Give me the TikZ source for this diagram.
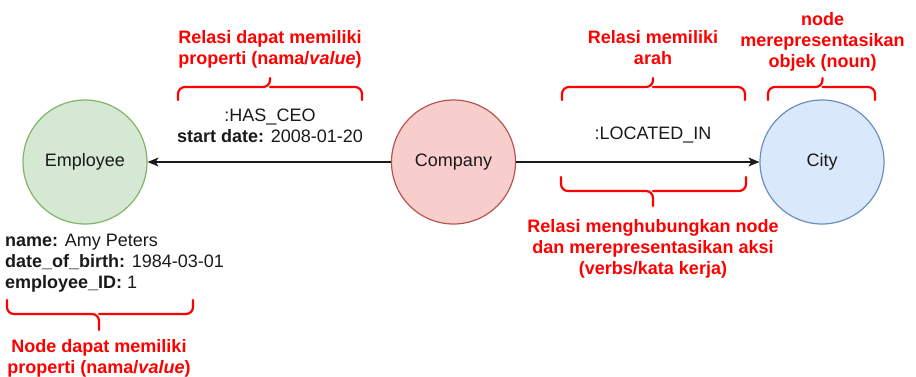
\documentclass[tikz,border=0pt]{standalone}
\usepackage{fontspec}
\setmainfont{Liberation Sans}
\usetikzlibrary{arrows.meta}
\definecolor{ink}{HTML}{1A1A1A}
\definecolor{note}{HTML}{FF0000}
\definecolor{greenfill}{HTML}{D5E8D4}\definecolor{greenline}{HTML}{82B366}
\definecolor{redfill}{HTML}{F8CECC}\definecolor{redline}{HTML}{B85450}
\definecolor{bluefill}{HTML}{DAE8FC}\definecolor{blueline}{HTML}{6C8EBF}
\tikzset{
  entity/.style={circle, minimum size=124pt, inner sep=0pt, line width=1.2pt,
    font=\fontsize{18}{21}\selectfont, text=ink},
  rel/.style={-{Stealth[length=11pt,width=9pt,inset=3pt]}, line width=1.1pt, ink},
  lbl/.style={inner sep=0pt, anchor=base, text=ink, align=center,
    font=\fontsize{18}{21}\selectfont},
  notetext/.style={inner sep=0pt, anchor=base, text=note, align=center,
    font=\fontsize{18}{21}\selectfont\bfseries},
  bracestroke/.style={draw=note, line width=2.2pt, rounded corners=7pt, line cap=round}
}
\begin{document}
\begin{tikzpicture}[x=1pt,y=-1pt]
\useasboundingbox (0,0) rectangle (916,376);

% entities
\node[entity, fill=greenfill, draw=greenline] (emp) at (85,162) {Employee};
\node[entity, fill=redfill, draw=redline] (comp) at (453.5,162) {Company};
\node[entity, fill=bluefill, draw=blueline] (city) at (822,162) {City};

% relationships
\draw[rel] (comp) -- (emp);
\draw[rel] (comp) -- (city);

% relationship and node properties (anchored on the last line's baseline)
\node[lbl] (hasceo) at (270,142) {:HAS\_CEO\\\textbf{start date:} 2008-01-20};
\node[lbl] (locin) at (653,139) {:LOCATED\_IN};
\node[lbl, align=left, anchor=base west] (props) at (5,288)
  {\textbf{name:} Amy Peters\\\textbf{date\_of\_birth:} 1984-03-01\\\textbf{employee\_ID:} 1};

% curly braces
\draw[bracestroke] (178,100) |- (270,87) -- (270,78);
\draw[bracestroke] (362,100) |- (270,87);
\draw[bracestroke] (562,100) |- (653,87) -- (653,78);
\draw[bracestroke] (745,100) |- (653,87);
\draw[bracestroke] (768,100) |- (822.5,87) -- (822.5,78);
\draw[bracestroke] (875,100) |- (822.5,87);
\draw[bracestroke] (561,177) |- (653,191) -- (653,206);
\draw[bracestroke] (746,177) |- (653,191);
\draw[bracestroke] (7,300) |- (99,314) -- (99,330);
\draw[bracestroke] (193,300) |- (99,314);

% annotations
\node[notetext] (n1) at (270,64) {Relasi dapat memiliki\\properti (nama/\textit{value})};
\node[notetext] (n2) at (653,64) {Relasi memiliki\\arah};
\node[notetext] (n3) at (822.5,67) {node\\merepresentasikan\\objek (noun)};
\node[notetext] (n4) at (653,274) {Relasi menghubungkan node\\dan merepresentasikan aksi\\(verbs/kata kerja)};
\node[notetext] (n5) at (99,373) {Node dapat memiliki\\properti (nama/\textit{value})};
\end{tikzpicture}
\end{document}
